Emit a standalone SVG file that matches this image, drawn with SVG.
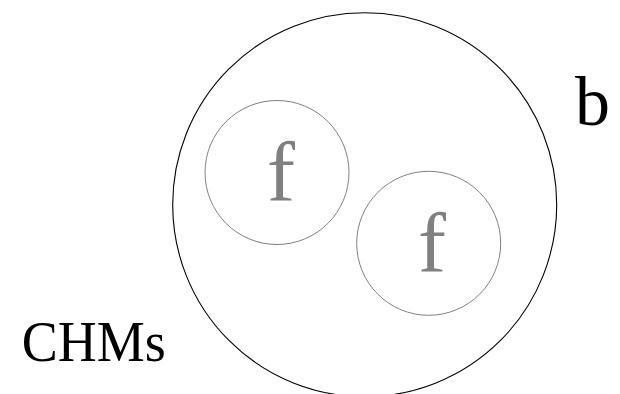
<svg xmlns="http://www.w3.org/2000/svg" width="620" height="394" viewBox="0 0 620 394">
<style>
.big{fill:none;stroke:#000;stroke-width:1.1}
.small{fill:none;stroke:#808080;stroke-width:1}
.lbl{font-family:"Liberation Serif","DejaVu Serif",serif;fill:#000}
.flbl{font-family:"Liberation Serif","DejaVu Serif",serif;fill:#808080;font-size:84px;text-anchor:middle}
</style>
<rect width="620" height="394" fill="#fff"/>
<g id="b">
<circle class="big" cx="364.7" cy="204.7" r="192"/>
<text class="lbl" x="575" y="125" font-size="70">b</text>
</g>
<g id="f1">
<circle class="small" cx="277" cy="172.5" r="72"/>
<text class="flbl" x="281" y="200">f</text>
</g>
<g id="f2">
<circle class="small" cx="428.7" cy="243.3" r="72"/>
<text class="flbl" x="432" y="270.7">f</text>
</g>
<g id="chms">
<text class="lbl" x="21.7" y="361" font-size="56" textLength="144" lengthAdjust="spacingAndGlyphs">CHMs</text>
</g>
<g id="connectors"></g>
</svg>
